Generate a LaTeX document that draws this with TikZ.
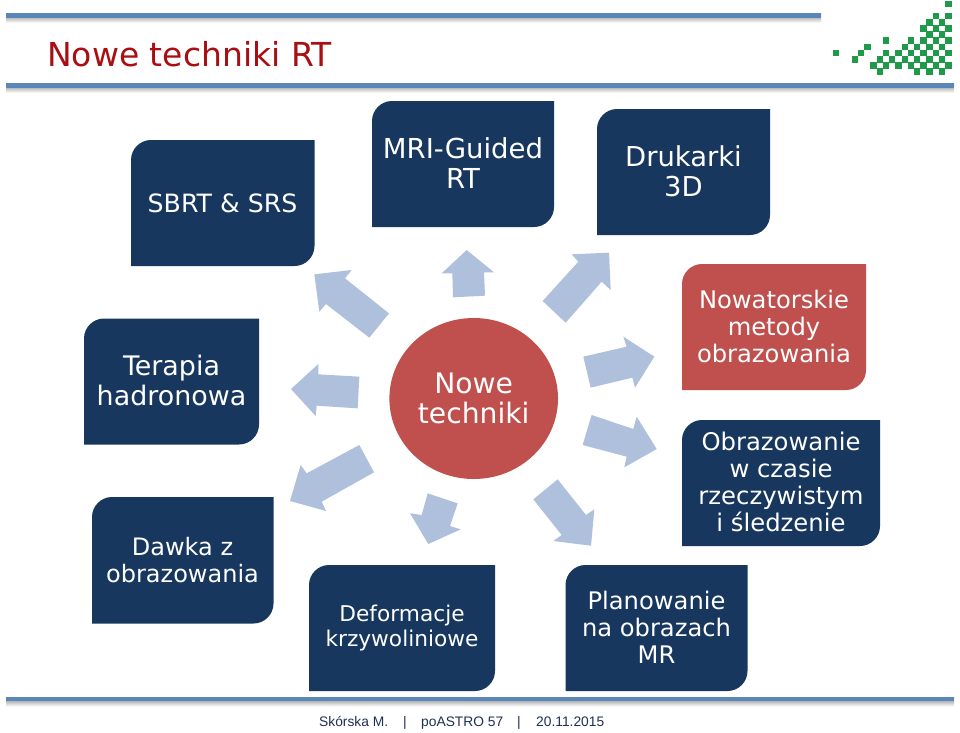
\documentclass[tikz,border=0pt]{standalone}
\usepackage{fontspec}
\setmainfont{DejaVu Sans}
\newfontfamily\footfont{Liberation Sans}
\usetikzlibrary{shapes.geometric}
\definecolor{navy}{HTML}{17375E}
\definecolor{brick}{HTML}{C0504D}
\definecolor{pale}{HTML}{AFC0DC}
\definecolor{barblue}{HTML}{5B86B8}
\definecolor{titlered}{HTML}{A80F12}
\definecolor{logogreen}{HTML}{1F9A4A}
\definecolor{footink}{HTML}{1F2F55}
\newcommand{\diagshape}[5]{%
  \fill[#5] ({#1},{#2+20}) .. controls ({#1},{#2+9}) and ({#1+9},{#2}) .. ({#1+20},{#2})
    -- ({#3},{#2}) -- ({#3},{#4-20})
    .. controls ({#3},{#4-9}) and ({#3-9},{#4}) .. ({#3-20},{#4})
    -- ({#1},{#4}) -- cycle;}
\newcommand{\sepbar}[3]{%
  \shade[top color=black!50,bottom color=white] (#1,#3) rectangle (#2,#3+9.5);
  \fill[barblue] (#1,#3) rectangle (#2,#3+4.4);}
\tikzset{
  lbl/.style={text=white,align=center,inner sep=0pt},
  sz/.style n args={2}{font=\fontsize{#1}{#2}\selectfont},
  arrowshape/.style={fill=pale},
  foot/.style={anchor=base west,inner sep=0pt,text=footink,font=\footfont\fontsize{13.8}{15}\selectfont}
}
\begin{document}
\begin{tikzpicture}[x=1pt,y=-1pt]
\useasboundingbox (0,0) rectangle (960,732);
\fill[white] (0,0) rectangle (960,732);
\sepbar{6}{821}{13.3}
\sepbar{6}{954}{83.4}
\sepbar{6}{954}{697}
\node[anchor=west,inner sep=0pt,text=titlered,font=\fontsize{33}{36}\selectfont] (title) at (47,54) {Nowe techniki RT};
% logo
\begin{scope}[shift={(780,0)},x=0.33333pt,y=-0.33333pt]
\foreach \a/\b in {505/11,467/48,505/48,448/67,486/67,430/85,467/85,505/85,448/103,486/103,
 318/121,392/121,430/121,467/121,505/121,262/141,374/141,411/141,448/141,486/141,
 168/158,243/158,318/158,355/158,392/158,430/158,467/158,505/158,
 224/178,299/178,336/178,374/178,411/178,448/178,486/178,
 280/196,318/196,355/196,392/196,430/196,467/196,505/196,
 299/214,411/214,448/214,486/214}{
  \fill[logogreen] (\a-9.5,\b-9.5) rectangle (\a+9.5,\b+9.5);
}
\end{scope}
% arrows
\begin{scope}[shift={(280,240)},x=0.33333pt,y=-0.33333pt]
\fill[arrowshape] (103,103)--(215,90)--(195,115)--(327,220)--(268,293)--(138,192)--(118,215)--cycle;
\fill[arrowshape] (560,30)--(642,97)--(612,97)--(615,167)--(519,172)--(517,100)--(485,100)--cycle;
\fill[arrowshape] (987,38)--(992,150)--(965,125)--(857,248)--(788,183)--(895,65)--(875,43)--cycle;
\fill[arrowshape] (1123,350)--(1065,443)--(1057,413)--(932,443)--(910,350)--(1040,320)--(1030,290)--cycle;
\fill[arrowshape] (1130,627)--(1033,682)--(1040,650)--(908,615)--(935,525)--(1060,567)--(1070,530)--cycle;
\fill[arrowshape] (933,917)--(820,903)--(845,885)--(760,778)--(833,718)--(918,825)--(943,808)--cycle;
\fill[arrowshape] (445,912)--(390,820)--(425,825)--(443,760)--(533,790)--(510,858)--(542,868)--cycle;
\fill[arrowshape] (30,783)--(62,675)--(80,700)--(238,615)--(282,697)--(125,785)--(138,813)--cycle;
\fill[arrowshape] (33,447)--(115,372)--(115,403)--(238,410)--(233,505)--(110,497)--(107,528)--cycle;
\end{scope}
% centre
\node[ellipse,fill=brick,minimum width=168.6pt,minimum height=161pt,inner sep=0pt,lbl,sz={28.2}{30}] (centre) at (473.7,398.5) {Nowe\\techniki};
% boxes
\diagshape{131}{140}{314.5}{266}{navy}
\node[lbl,sz={25.2}{30}] (sbrt) at (222.5,203) {SBRT \& SRS};
\diagshape{372}{101}{554}{227}{navy}
\node[lbl,sz={27.5}{30}] (mri) at (463,163.5) {MRI-Guided\\RT};
\diagshape{597}{109}{770}{235}{navy}
\node[lbl,sz={27.4}{30}] (druk) at (683.5,171) {Drukarki\\3D};
\diagshape{84}{318.5}{259}{444.5}{navy}
\node[lbl,sz={26.9}{30}] (terapia) at (171.5,380.5) {Terapia\\hadronowa};
\diagshape{92}{497}{273.5}{623.5}{navy}
\node[lbl,sz={24}{27}] (dawka) at (182.5,560) {Dawka z\\obrazowania};
\diagshape{309}{565}{495}{691}{navy}
\node[lbl,sz={21.7}{25}] (deform) at (402,628) {Deformacje\\krzywoliniowe};
\diagshape{565.5}{565}{747.5}{691}{navy}
\node[lbl,sz={24.2}{27}] (plan) at (656.5,627.5) {Planowanie\\na obrazach\\MR};
\diagshape{682}{264}{866}{390}{brick}
\node[lbl,sz={24.2}{27}] (nowat) at (774,326.3) {Nowatorskie\\metody\\obrazowania};
\diagshape{682}{420}{880}{546}{navy}
\node[lbl,sz={24.3}{27}] (obraz) at (781,482.3) {Obrazowanie\\w czasie\\rzeczywistym\\i śledzenie};
% footer
\node[foot] (f1) at (319,726) {Skórska M.};
\node[foot] (f2) at (403,726) {|};
\node[foot] (f3) at (421,726) {poASTRO 57};
\node[foot] (f4) at (517,726) {|};
\node[foot] (f5) at (536,726) {20.11.2015};
\end{tikzpicture}
\end{document}
